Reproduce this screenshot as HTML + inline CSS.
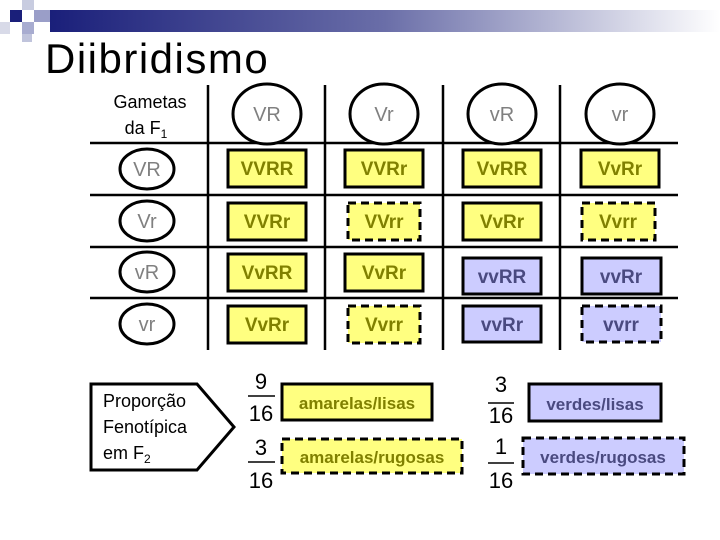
<!DOCTYPE html>
<html><head><meta charset="utf-8"><style>
html,body{margin:0;padding:0;background:#fff;}
svg{display:block;font-family:"Liberation Sans",sans-serif;}
</style></head><body>
<svg width="720" height="540" viewBox="0 0 720 540" xmlns="http://www.w3.org/2000/svg">
<defs>
<linearGradient id="g" x1="0" x2="1" y1="0" y2="0">
<stop offset="0" stop-color="#1a1f7a"/><stop offset="0.5" stop-color="#6a6ea8"/><stop offset="1" stop-color="#ffffff"/>
</linearGradient>
</defs>
<rect x="50" y="10" width="670" height="22" fill="url(#g)"/>
<rect x="10" y="10" width="12" height="12" fill="#1a1f7a"/>
<rect x="22" y="0" width="12" height="10" fill="#c8cce0"/>
<rect x="22" y="22" width="12" height="12" fill="#a8acd0"/>
<rect x="34" y="10" width="16" height="12" fill="#9a9ec8"/>
<rect x="0" y="22" width="10" height="12" fill="#d8dae8"/>
<rect x="22" y="34" width="10" height="8" fill="#c0c4dc"/>
<text x="45" y="73" font-size="42" letter-spacing="1.5" fill="#000">Diibridismo</text>

<g stroke="#000" stroke-width="2.5">
<line x1="208" y1="85" x2="208" y2="350"/>
<line x1="325" y1="85" x2="325" y2="350"/>
<line x1="443" y1="85" x2="443" y2="350"/>
<line x1="560" y1="85" x2="560" y2="350"/>
<line x1="90" y1="143" x2="678" y2="143"/>
<line x1="90" y1="195" x2="678" y2="195"/>
<line x1="90" y1="247" x2="678" y2="247"/>
<line x1="90" y1="298" x2="678" y2="298"/>
</g>

<text x="150" y="108" font-size="18" text-anchor="middle">Gametas</text>
<text x="146" y="134" font-size="18" text-anchor="middle">da F<tspan font-size="12" dy="4">1</tspan></text>

<g fill="#fff" stroke="#000" stroke-width="3">
<ellipse cx="267" cy="114" rx="34" ry="30"/>
<ellipse cx="384" cy="114" rx="34" ry="30"/>
<ellipse cx="502" cy="114" rx="34" ry="30"/>
<ellipse cx="620" cy="114" rx="34" ry="30"/>
<ellipse cx="147" cy="169" rx="27" ry="20"/>
<ellipse cx="147" cy="221" rx="27" ry="20"/>
<ellipse cx="147" cy="272" rx="27" ry="20"/>
<ellipse cx="147" cy="324" rx="27" ry="20"/>
</g>
<g fill="#808080" font-size="20" text-anchor="middle">
<text x="267" y="121">VR</text><text x="384" y="121">Vr</text><text x="502" y="121">vR</text><text x="620" y="121">vr</text>
<text x="147" y="176">VR</text><text x="147" y="228">Vr</text><text x="147" y="279">vR</text><text x="147" y="331">vr</text>
</g>

<g stroke="#000" stroke-width="3">
<g fill="#ffff80">
<rect x="228" y="150" width="78" height="37"/>
<rect x="345" y="150" width="78" height="37"/>
<rect x="463" y="150" width="78" height="37"/>
<rect x="581" y="150" width="78" height="37"/>
<rect x="228" y="203" width="78" height="37"/>
<rect x="348" y="203" width="72" height="37" stroke-dasharray="8,5"/>
<rect x="463" y="203" width="78" height="37"/>
<rect x="582" y="203" width="73" height="37" stroke-dasharray="8,5"/>
<rect x="228" y="254" width="78" height="37"/>
<rect x="345" y="254" width="78" height="37"/>
<rect x="228" y="306" width="78" height="37"/>
<rect x="348" y="306" width="72" height="37" stroke-dasharray="8,5"/>
</g>
<g fill="#ccccff">
<rect x="463" y="258" width="78" height="36"/>
<rect x="582" y="258" width="79" height="36"/>
<rect x="463" y="306" width="78" height="36"/>
<rect x="582" y="306" width="79" height="36" stroke-dasharray="8,5"/>
</g>
</g>
<g font-size="19" font-weight="bold" text-anchor="middle" fill="#808000">
<text x="267" y="175">VVRR</text><text x="384" y="175">VVRr</text><text x="502" y="175">VvRR</text><text x="620" y="175">VvRr</text>
<text x="267" y="228">VVRr</text><text x="384" y="228">VVrr</text><text x="502" y="228">VvRr</text><text x="618" y="228">Vvrr</text>
<text x="267" y="279">VvRR</text><text x="384" y="279">VvRr</text>
<text x="267" y="331">VvRr</text><text x="384" y="331">Vvrr</text>
</g>
<g font-size="19" font-weight="bold" text-anchor="middle" fill="#4a4a80">
<text x="502" y="283">vvRR</text><text x="621" y="283">vvRr</text>
<text x="502" y="331">vvRr</text><text x="621" y="331">vvrr</text>
</g>

<polygon points="91,384 197,384 234,427 197,470 91,470" fill="#fff" stroke="#000" stroke-width="3"/>
<text x="103" y="407" font-size="18">Proporção</text>
<text x="103" y="433" font-size="18">Fenotípica</text>
<text x="103" y="459" font-size="18">em F<tspan font-size="12" dy="4">2</tspan></text>

<g font-size="22" text-anchor="middle" fill="#000">
<text x="261" y="389">9</text><text x="261" y="421">16</text>
<text x="261" y="455">3</text><text x="261" y="488">16</text>
<text x="501" y="392">3</text><text x="501" y="423">16</text>
<text x="501" y="454">1</text><text x="501" y="488">16</text>
</g>
<g stroke="#000" stroke-width="1.5">
<line x1="248" y1="396" x2="275" y2="396"/><line x1="248" y1="462" x2="275" y2="462"/>
<line x1="488" y1="403" x2="514" y2="403"/><line x1="488" y1="463" x2="514" y2="463"/>
</g>
<g stroke="#000" stroke-width="3">
<rect x="282" y="384" width="150" height="36" fill="#ffff80"/>
<rect x="282" y="439" width="180" height="34" fill="#ffff80" stroke-dasharray="8,5"/>
<rect x="529" y="384" width="132" height="37" fill="#ccccff"/>
<rect x="523" y="438" width="161" height="36" fill="#ccccff" stroke-dasharray="8,5"/>
</g>
<g font-size="17" font-weight="bold" text-anchor="middle">
<text x="357" y="409" fill="#808000">amarelas/lisas</text>
<text x="372" y="463" fill="#808000">amarelas/rugosas</text>
<text x="595" y="410" fill="#4a4a80">verdes/lisas</text>
<text x="603" y="463" fill="#4a4a80">verdes/rugosas</text>
</g>
</svg>
</body></html>
